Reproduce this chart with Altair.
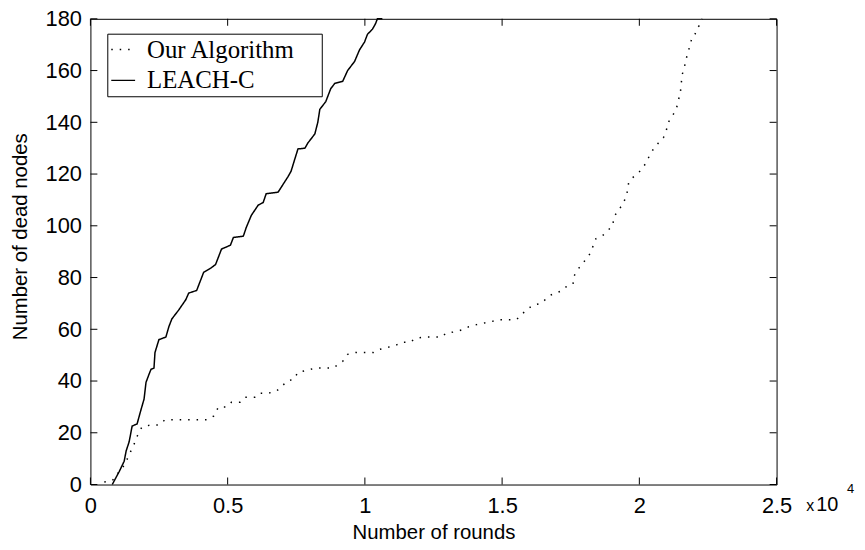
import altair as alt
import pandas as pd

# ---------------- data ----------------
series_order = ["Our Algorithm", "LEACH-C"]

leach_rounds = [796, 1049, 1230, 1302, 1411, 1520, 1700, 1845, 1954, 2026,
                2135, 2207, 2316, 2352, 2496, 2750, 2858, 2967, 3220, 3473,
                3582, 3871, 4125, 4378, 4559, 4776, 5101, 5210, 5572, 5680,
                5861, 6114, 6295, 6404, 6838, 7019, 7200, 7308, 7453, 7562,
                7815, 7923, 8177, 8285, 8358, 8575, 8756, 8900, 9190, 9371,
                9624, 9805, 9986, 10094, 10275, 10384, 10456, 10637]
leach_dead = [0, 5, 9, 13, 16.5, 22.6, 23.4, 29, 33, 39.5,
              42.6, 44.5, 45, 51, 56, 57, 61, 64, 67.5, 71.4,
              74, 75, 82, 83.6, 85, 91, 92.5, 95.5, 96, 99.4,
              104, 108, 109, 112.4, 113, 116, 119, 121, 126, 129.7,
              130, 132, 135.5, 140, 145, 148, 153, 155, 155.8, 160,
              163.5, 168, 171, 174, 176, 178, 180, 180]

ours_rounds = [506, 796, 1049, 1230, 1375, 1520, 1628, 1737, 1881, 2207,
               2496, 2714, 4233, 4486, 4667, 4957, 5138, 5463, 5644, 6006,
               6187, 6476, 6766, 6983, 7164, 7417, 7562, 7851, 8177, 8828,
               8973, 9190, 9371, 9660, 10311, 10528, 10818, 11107, 11324, 11650,
               11831, 12156, 12808, 12953, 13278, 13604, 13785, 14074, 14617, 14907,
               15522, 15738, 15956, 16136, 16426, 16607, 16788, 17149, 17330, 17584,
               17620, 17801, 17945, 18126, 18235, 18307, 18416, 18669, 18850, 19031,
               19067, 19212, 19392, 19501, 19573, 19610, 19754, 20044, 20225, 20333,
               20514, 20695, 20876, 20985, 21057, 21201, 21346, 21419, 21491, 21527,
               21563, 21635, 21708, 21780, 21853, 21925, 22034, 22106, 22178, 22287]
ours_dead = [1, 1.5, 5, 7.4, 10.6, 14, 16.5, 19.5, 22.3, 23,
             23, 25, 25, 26.4, 30, 30, 31.8, 31.8, 33.7, 33.7,
             35.3, 35.3, 36, 38, 40, 40.7, 43.4, 44, 45, 45,
             46, 47.6, 50.3, 51, 51, 52.2, 53, 53.7, 55, 55,
             56.4, 57, 57, 58.5, 59, 60, 61, 61.8, 63, 63.7,
             63.7, 66, 68, 69.4, 70, 71.8, 73.3, 74.8, 76.4, 77.5,
             80.6, 83.7, 85.6, 88, 89.8, 92, 95, 96.3, 98.2, 100,
             103, 106, 108, 111, 113.6, 116.7, 118.6, 121.3, 124, 126.3,
             129.7, 132, 134, 137, 140, 142.4, 145, 148.5, 151, 155,
             158.5, 161, 164.6, 167.3, 170, 173, 174.2, 176.5, 177.3, 180]

x_ticks = [0, 5000, 10000, 15000, 20000, 25000]
y_ticks = [0, 20, 40, 60, 80, 100, 120, 140, 160, 180]
x_domain = [0, 25000]
y_domain = [0, 180]

# ---------------- build tables ----------------
df = pd.concat([
    pd.DataFrame({"rounds": ours_rounds, "dead": ours_dead, "series": series_order[0]}),
    pd.DataFrame({"rounds": leach_rounds, "dead": leach_dead, "series": series_order[1]}),
], ignore_index=True)

anno = pd.DataFrame({"rounds": [x_domain[1]], "dead": [y_domain[0]]})
ticks_bottom = pd.DataFrame({"rounds": x_ticks, "dead": [y_domain[0]] * len(x_ticks)})
ticks_top = pd.DataFrame({"rounds": x_ticks, "dead": [y_domain[1]] * len(x_ticks)})
ticks_left = pd.DataFrame({"rounds": [x_domain[0]] * len(y_ticks), "dead": y_ticks})
ticks_right = pd.DataFrame({"rounds": [x_domain[1]] * len(y_ticks), "dead": y_ticks})

xscale = alt.Scale(domain=x_domain, nice=False, zero=False)
yscale = alt.Scale(domain=y_domain, nice=False)

SANS = "Liberation Sans"
SERIF = "Liberation Serif"
TICK = 7
# thin space + blank glyph (not trimmed) to widen the legend box like MATLAB's
PAD = "\u2009\u2800"


def legend_def():
    return alt.Legend(
        orient="none", legendX=17, legendY=15, title=None,
        padding=3, rowPadding=5, symbolType="stroke", symbolSize=576,
        symbolStrokeWidth=1.5, labelOffset=11, labelFont=SERIF,
        labelFontSize=25, labelColor="black", labelLimit=400,
        labelExpr="datum.label + '" + PAD + "'",
        strokeColor="black", fillColor="white",
    )


lines = alt.Chart(df).mark_line(strokeWidth=1.5, strokeCap="butt").encode(
    x=alt.X("rounds:Q", scale=xscale, axis=alt.Axis(
        orient="bottom", values=x_ticks, labelExpr="'' + datum.value / 10000",
        ticks=False, domain=False, grid=False, labelPadding=28,
        labelBaseline="alphabetic", labelFlush=False,
        title="Number of rounds", titleY=54, titleBaseline="alphabetic")),
    y=alt.Y("dead:Q", scale=yscale, axis=alt.Axis(
        orient="left", values=y_ticks, ticks=False, domain=False, grid=False,
        labelPadding=9, labelFlush=False,
        title="Number of dead nodes", titleX=-70.5, titleY=219,
        titleAngle=270, titleBaseline="middle", titleAlign="center")),
    color=alt.Color("series:N", scale=alt.Scale(domain=series_order, range=["black", "black"]),
                    legend=legend_def()),
    strokeDash=alt.StrokeDash("series:N", scale=alt.Scale(domain=series_order, range=[[1.5, 7], [1, 0]]),
                              legend=legend_def()),
)


def tick_layer(data, orient, xoff, yoff):
    return alt.Chart(data).mark_tick(
        orient=orient, size=TICK, thickness=1, color="black", opacity=1,
        xOffset=xoff, yOffset=yoff,
    ).encode(
        x=alt.X("rounds:Q", scale=xscale, axis=None),
        y=alt.Y("dead:Q", scale=yscale, axis=None),
    )


def anno_text(txt, size, dx, dy):
    return alt.Chart(anno).mark_text(
        text=txt, font=SANS, fontSize=size, color="black",
        align="left", baseline="alphabetic", dx=dx, dy=dy,
    ).encode(
        x=alt.X("rounds:Q", scale=xscale, axis=None),
        y=alt.Y("dead:Q", scale=yscale, axis=None),
    )


chart = alt.layer(
    lines,
    tick_layer(ticks_bottom, "vertical", 0, -TICK / 2),
    tick_layer(ticks_top, "vertical", 0, TICK / 2),
    tick_layer(ticks_left, "horizontal", TICK / 2, 0),
    tick_layer(ticks_right, "horizontal", -TICK / 2, 0),
    anno_text("x", 16, 30, 27),
    anno_text("10", 20, 40, 27),
    anno_text("4", 13, 71, 9),
).resolve_axis(
    x="independent", y="independent"
).properties(
    width=691, height=469,
    autosize=alt.AutoSizeParams(type="none"),
    padding={"left": 83, "top": 9, "right": 81, "bottom": 56},
).configure_view(
    stroke="black", strokeWidth=1
).configure_axis(
    labelFont=SANS, labelFontSize=22, labelColor="black",
    titleFont=SANS, titleFontSize=20.5, titleFontWeight="normal", titleColor="black",
)

chart.save("out.html", embed_options={"renderer": "svg", "actions": False})
